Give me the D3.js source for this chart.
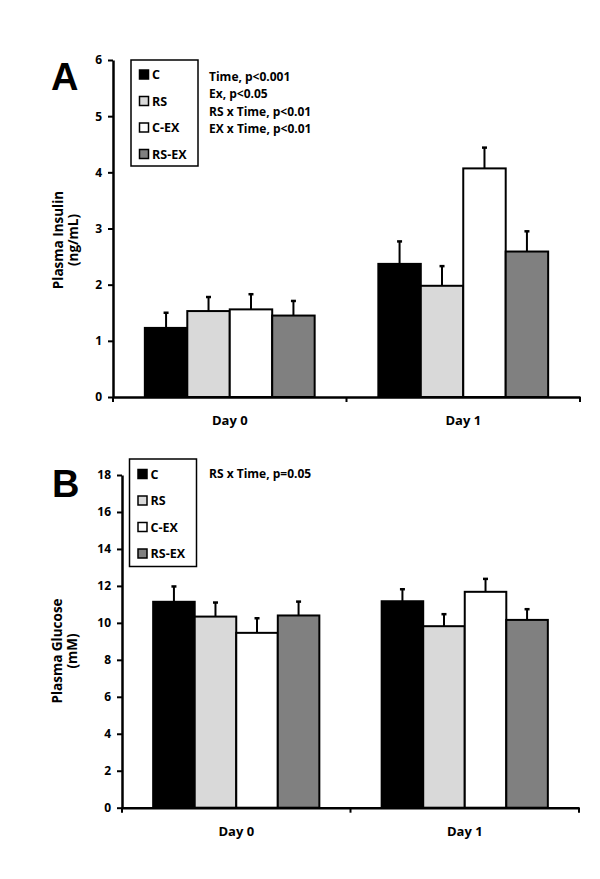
<!DOCTYPE html>
<html><head><meta charset="utf-8">
<script src="https://cdn.jsdelivr.net/npm/d3@7"></script>
<style>
body{margin:0;background:#fff;}
svg text{font-family:"Open Sans",Lato,sans-serif;font-weight:bold;fill:#000;}
</style></head>
<body><svg id="c" width="600" height="879"></svg>
<script>
const days = ["Day 0", "Day 1"];
const groups = ["C", "RS", "C-EX", "RS-EX"];
const groupColors = ["#000000", "#d9d9d9", "#ffffff", "#808080"];
// Panel A: Plasma Insulin (ng/mL)
const insulinMean = [[1.23, 1.53, 1.56, 1.45], [2.37, 1.98, 4.07, 2.59]];
const insulinErr  = [[0.27, 0.25, 0.27, 0.26], [0.40, 0.35, 0.37, 0.36]];
const insulinTicks = [0, 1, 2, 3, 4, 5, 6];
const insulinStats = ["Time, p<0.001", "Ex, p<0.05", "RS x Time, p<0.01", "EX x Time, p<0.01"];
// Panel B: Plasma Glucose (mM)
const glucoseMean = [[11.14, 10.34, 9.46, 10.40], [11.17, 9.82, 11.68, 10.16]];
const glucoseErr  = [[0.83, 0.76, 0.79, 0.75], [0.65, 0.65, 0.70, 0.58]];
const glucoseTicks = [0, 2, 4, 6, 8, 10, 12, 14, 16, 18];
const glucoseStats = ["RS x Time, p=0.05"];

const svg = d3.select("#c");

function panel(o) {
  const g = svg.append("g");
  const x0 = d3.scaleBand().domain(days).range([o.left, o.right]).padding(0);
  const x1 = d3.scaleBand().domain(groups).range([0, x0.bandwidth()]).paddingInner(0).paddingOuter(0.75);
  const color = d3.scaleOrdinal().domain(groups).range(groupColors);
  const y = d3.scaleLinear().domain([0, o.max]).range([o.bottom, o.top]);

  // bars
  days.forEach((d, i) => {
    groups.forEach((s, j) => {
      const v = o.mean[i][j], e = o.err[i][j];
      const bx = x0(d) + x1(s), bw = x1.bandwidth();
      const cx = bx + bw / 2;
      g.append("line").attr("x1", cx).attr("x2", cx).attr("y1", y(v)).attr("y2", y(v + e))
        .attr("stroke", "#000").attr("stroke-width", 2);
      g.append("line").attr("x1", cx - 2.5).attr("x2", cx + 2.5).attr("y1", y(v + e)).attr("y2", y(v + e))
        .attr("stroke", "#000").attr("stroke-width", 2.5);
      g.append("rect").attr("x", bx).attr("y", y(v)).attr("width", bw).attr("height", y(0) - y(v))
        .attr("fill", color(s)).attr("stroke", "#000").attr("stroke-width", 2);
    });
  });

  // y axis
  const ya = d3.axisLeft(y).tickValues(o.ticks).tickFormat(d3.format("d"))
    .tickSize(5).tickPadding(6).tickSizeOuter(0);
  const yg = g.append("g").attr("transform", `translate(${o.left},0)`).call(ya);
  yg.select(".domain").attr("stroke-width", 2.5);
  yg.selectAll(".tick line").attr("stroke-width", 2);
  yg.selectAll(".tick text").style("font-size", "12px").attr("fill", "#000");

  // x axis
  const xa = d3.axisBottom(x0).tickSize(0).tickPadding(19).tickSizeOuter(0);
  const xg = g.append("g").attr("transform", `translate(0,${o.bottom})`).call(xa);
  xg.select(".domain").attr("stroke-width", 2.5);
  xg.selectAll(".tick text").style("font-size", "13px").attr("fill", "#000");
  const bounds = [o.left, x0("Day 1"), o.right];
  bounds.forEach(bx => {
    xg.append("line").attr("x1", bx).attr("x2", bx).attr("y1", 0).attr("y2", 5)
      .attr("stroke", "#000").attr("stroke-width", 2);
  });

  // y title
  const yt = g.append("text").attr("transform", `translate(${o.titleX},${o.titleY}) rotate(-90)`)
    .attr("text-anchor", "middle").style("font-size", "13.5px");
  yt.append("tspan").attr("x", 0).attr("dy", "0.35em").text(o.title1);
  yt.append("tspan").attr("x", 0).attr("dy", "1.12em").text(o.title2);

  // panel letter
  g.append("text").attr("x", o.letterX).attr("y", o.letterY).style("font-size", "38px")
    .style("font-family", "'Liberation Sans',Arial,sans-serif").text(o.letter);

  // legend
  g.append("rect").attr("x", o.legX).attr("y", o.legY).attr("width", 67).attr("height", o.legH)
    .attr("fill", "#fff").attr("stroke", "#000").attr("stroke-width", 1.5);
  groups.forEach((s, j) => {
    const cy = o.legY + o.legFirst + j * o.legStep;
    g.append("rect").attr("x", o.legX + 8.5).attr("y", cy - 4.5).attr("width", 9).attr("height", 9)
      .attr("fill", color(s)).attr("stroke", "#000").attr("stroke-width", 1.5);
    g.append("text").attr("x", o.legX + 21).attr("y", cy).attr("dy", "0.36em")
      .style("font-size", "12.5px").text(s);
  });

  // stats text
  o.stats.forEach((t, k) => {
    g.append("text").attr("x", 209).attr("y", o.statY + k * 17.5).attr("dy", "0.36em")
      .style("font-size", "12px").text(t);
  });
}

panel({left: 113, right: 580, top: 60, bottom: 397, max: 6, mean: insulinMean, err: insulinErr,
  ticks: insulinTicks, title1: "Plasma Insulin", title2: "(ng/mL)", titleX: 58, titleY: 240,
  letter: "A", letterX: 51, letterY: 90, legX: 131, legY: 60, legH: 106, legFirst: 14.5, legStep: 26.5,
  stats: insulinStats, statY: 76.5});

panel({left: 122, right: 579, top: 475, bottom: 807.7, max: 18, mean: glucoseMean, err: glucoseErr,
  ticks: glucoseTicks, title1: "Plasma Glucose", title2: "(mM)", titleX: 57, titleY: 651,
  letter: "B", letterX: 52, letterY: 497, legX: 129.5, legY: 459, legH: 107.5, legFirst: 15, legStep: 26.5,
  stats: glucoseStats, statY: 473.5});
</script></body></html>
